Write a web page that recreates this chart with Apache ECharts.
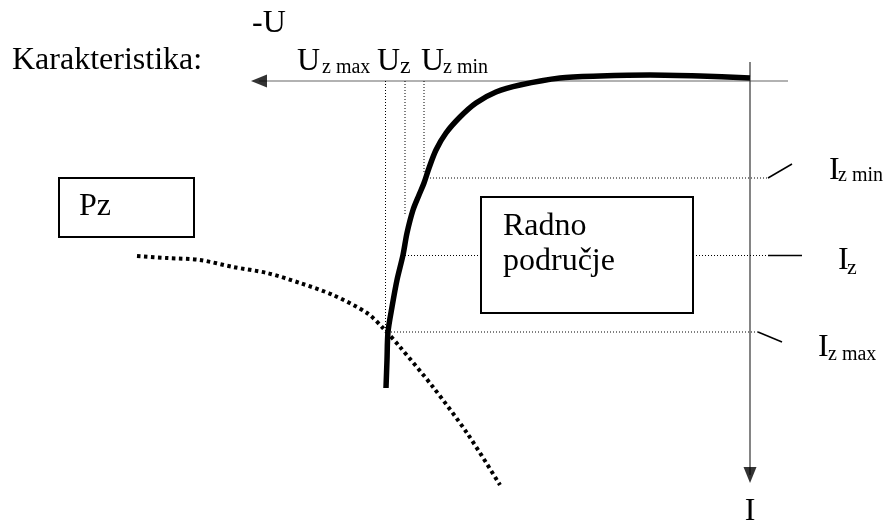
<!DOCTYPE html>
<html>
<head>
<meta charset="utf-8">
<script src="https://cdn.jsdelivr.net/npm/echarts@6/dist/echarts.min.js"></script>
<style>
  html, body { margin: 0; padding: 0; background: #fff; }
  #chart { width: 888px; height: 525px; }
</style>
</head>
<body>
<div id="chart"></div>
<script>
// Zenerova karakteristika, -U lijevo, I prema dolje (relativne jedinice sa slike)
var zenerU = [7.28, 7.26, 7.24, 7.16, 7.06, 6.94, 6.86, 6.74, 6.62, 6.52, 6.42, 6.28, 6.08, 5.80, 5.48, 5.08, 4.60, 3.80, 3.00, 2.00, 1.00, 0.00]
var zenerI = [6.14, 5.58, 5.02, 4.52, 3.98, 3.48, 3.04, 2.58, 2.28, 2.04, 1.74, 1.38, 1.04, 0.72, 0.44, 0.22, 0.08, -0.06, -0.10, -0.12, -0.10, -0.06]

// krivulja snage Pz
var pzU = [12.26, 11.66, 11.00, 10.34, 9.66, 9.00, 8.34, 7.66, 7.34, 7.00, 6.34, 5.66, 5.00]
var pzI = [3.50, 3.54, 3.58, 3.72, 3.84, 4.04, 4.28, 4.64, 4.94, 5.32, 6.12, 7.04, 8.08]

// krajevi osi (-U i I)
var uAxisEnds = [-0.76, 9.82]
var iAxisEnds = [-0.38, 7.88]

// Uz max, Uz, Uz min i koliko duboko idu njihove tockaste linije
var uzValues = [7.29, 6.90, 6.52]
var uzDepth = [5.02, 2.70, 1.84]

// Iz min, Iz, Iz max
var izValues = [1.94, 3.49, 5.02]
var izFrom = [6.40, 6.90, 7.30]
var izTo = [-0.36, -0.36, -0.16]
var markEndU = [-0.84, -1.04, -0.64]
var markEndI = [1.66, 3.49, 5.22]

var chart = echarts.init(document.getElementById('chart'))
var serif = '"Liberation Serif", "Times New Roman", serif'

function seg(points, style, z) {
  return {
    type: 'line',
    data: points,
    symbol: 'none',
    clip: false,
    silent: true,
    z: z || 2,
    lineStyle: style
  }
}

var series = []
var dotted = { color: '#000', width: 1, type: [1, 2] }

// osi
series.push(seg([[uAxisEnds[0], 0], [uAxisEnds[1], 0]], { color: '#999', width: 1.5 }))
series.push(seg([[0, iAxisEnds[0]], [0, iAxisEnds[1]]], { color: '#333', width: 1.2 }))

uzValues.forEach(function (u, i) {
  series.push(seg([[u, 0], [u, uzDepth[i]]], dotted))
})
izValues.forEach(function (v, i) {
  series.push(seg([[izFrom[i], v], [izTo[i], v]], dotted))
  series.push(seg([[izTo[i], v], [markEndU[i], markEndI[i]]], { color: '#000', width: 1.5 }))
})

var pz = seg(pzU.map(function (u, i) { return [u, pzI[i]] }),
  { color: '#000', width: 4, type: [3.5, 3.5] })
pz.smooth = 0.3
series.push(pz)

var zener = seg(zenerU.map(function (u, i) { return [u, zenerI[i]] }),
  { color: '#000', width: 5.5, cap: 'butt' }, 5)
zener.smooth = 0.3
series.push(zener)

// strelice na osima
series.push({
  type: 'scatter',
  clip: false,
  silent: true,
  z: 6,
  data: [
    { value: [uAxisEnds[1], 0], symbolRotate: 90 },
    { value: [0, iAxisEnds[1]], symbolRotate: 180 }
  ],
  symbol: 'triangle',
  symbolSize: [13, 16],
  itemStyle: { color: '#000' }
})

function txt(x, y, text, size, align) {
  return {
    type: 'text',
    x: x,
    y: y,
    z: 100,
    style: {
      text: text,
      fontSize: size,
      fontFamily: serif,
      fill: '#000',
      align: align || 'left',
      verticalAlign: 'middle'
    }
  }
}

var option = {
  animation: false,
  grid: { left: 0, right: 0, top: 0, bottom: 0 },
  xAxis: {
    type: 'value',
    inverse: true,
    min: -2.76,
    max: 15,
    show: false
  },
  yAxis: {
    type: 'value',
    inverse: true,
    min: -1.62,
    max: 8.88,
    show: false
  },
  series: series,
  graphic: [
    { type: 'rect', z: 90, shape: { x: 59, y: 178, width: 135, height: 59 },
      style: { fill: '#fff', stroke: '#000', lineWidth: 2 } },
    { type: 'rect', z: 90, shape: { x: 481, y: 197, width: 212, height: 116 },
      style: { fill: '#fff', stroke: '#000', lineWidth: 2 } },
    txt(252, 24, '-U', 32),
    txt(12, 61, 'Karakteristika:', 32),
    txt(297, 62, 'U', 32), txt(322, 68, 'z max', 20),
    txt(377, 62, 'U', 32), txt(400, 67, 'z', 24),
    txt(421, 62, 'U', 32), txt(443, 68, 'z min', 20),
    txt(829, 171, 'I', 32), txt(838, 176, 'z min', 20),
    txt(838, 261, 'I', 32), txt(847, 268, 'z', 22),
    txt(818, 348, 'I', 32), txt(828, 355, 'z max', 20),
    txt(750, 512, 'I', 32, 'center'),
    txt(79, 207, 'Pz', 32),
    txt(503, 227, 'Radno', 32),
    txt(503, 262, 'podru\u010dje', 32)
  ]
}

chart.setOption(option)
</script>
</body>
</html>
